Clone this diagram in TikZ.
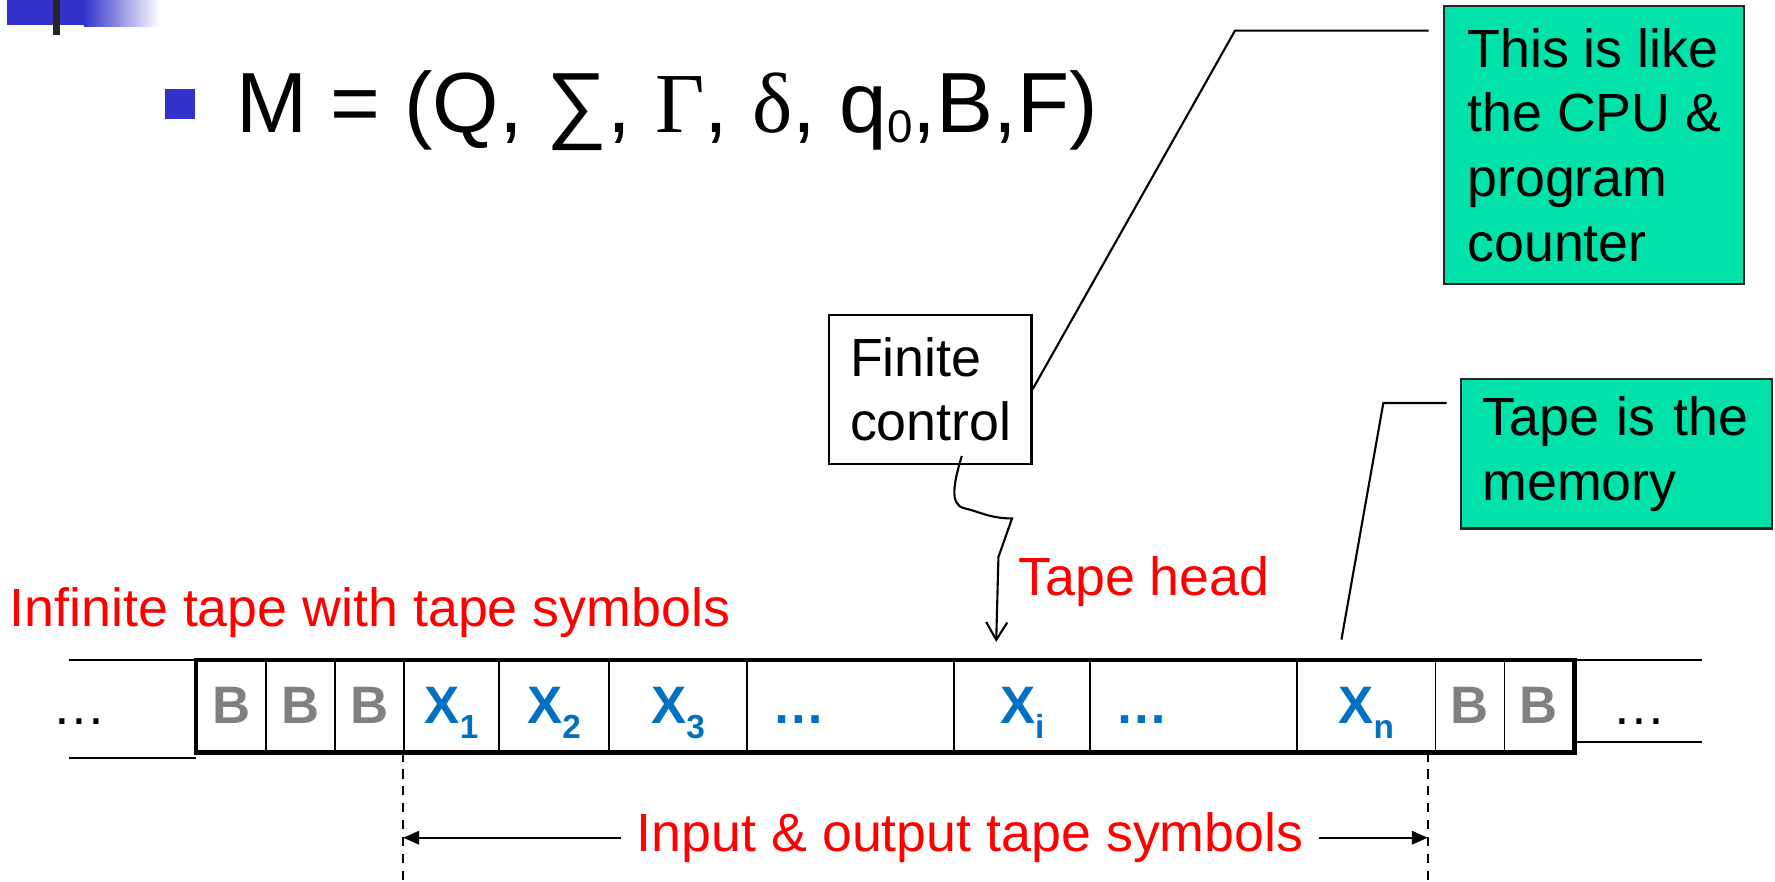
\documentclass[tikz,border=0pt]{standalone}
\usepackage{fontspec}
\setmainfont{Liberation Sans}
\newfontfamily\symserif{Liberation Serif}
\usepackage{tikz}
\usetikzlibrary{arrows.meta, calc}

\definecolor{slideblue}{RGB}{51,51,204}
\definecolor{symblue}{RGB}{0,112,192}
\definecolor{blankgray}{RGB}{128,128,128}
\definecolor{notegreen}{RGB}{0,226,170}

\newcommand{\cB}{\textcolor{blankgray}{B}}
\newcommand{\cX}[1]{\textcolor{symblue}{X\raisebox{-0.15cm}{\fontsize{9.5}{10}\selectfont #1}}}
\newcommand{\cD}{\makebox[2.07cm][l]{\hspace{0.25cm}\textcolor{symblue}{…}}}

\begin{document}
\begin{tikzpicture}[x=0.01132cm, y=-0.01132cm, inner sep=0pt]
            \useasboundingbox (0,0) rectangle (1568,779);

            \tikzstyle{cell}=[draw, line width=0.5pt, text height=0.623cm, text depth=0.283cm, font=\fontsize{15}{18}\selectfont\bfseries];
            \tikzstyle{note}=[draw=black!85, line width=0.6pt, fill=notegreen, align=left, anchor=north west, font=\fontsize{15.3}{18.4}\selectfont];
            \tikzstyle{redtxt}=[text=red, font=\fontsize{15.3}{18}\selectfont];
            \tikzstyle{callline}=[line width=0.6pt];
            \tikzstyle{dimline}=[line width=0.6pt, dash pattern=on 2.6pt off 2.2pt];
            \tikzstyle{dimarrow}=[line width=0.6pt, -{Triangle[length=4.5pt, width=3.8pt]}];

            \fill[slideblue] (6,0) rectangle (74,22);
            \shade[left color=slideblue, right color=white] (74,0) rectangle (141,23);
            \fill[black!85] (47,0) rectangle (53,31);
            \fill[slideblue] (146,79) rectangle (172,105);

            \node[anchor=base west, font=\fontsize{24.3}{30}\selectfont] (tuple) at (208,117)
                {M = (Q, ∑, {\symserif Γ}, {\symserif δ}, q\raisebox{-0.1cm}{\fontsize{13}{13}\selectfont 0},B,F)};

            \node[note, minimum width=3cm, minimum height=2.785cm] (cpu) at (1275,4)
                {This is like\\the CPU \&\\program\\counter};
            \node[note, minimum width=3.11cm, minimum height=1.494cm, inner xsep=0.21cm, text width=2.69cm] (mem) at (1290,334)
                {Tape is the\\memory};
            \node[draw, line width=0.6pt, fill=white, align=left, anchor=north west, minimum width=2.026cm,
                minimum height=1.494cm, inner xsep=0.215cm, text width=1.6cm, font=\fontsize{15.3}{18}\selectfont] (fc) at (731,277)
                {Finite\\control};

            \foreach \xa/\xb/\lab [count=\i] in {174/235/\cB, 235/296/\cB, 296/357/\cB, 357/441/\cX{1},
                441/538/\cX{2}, 538/660/\cX{3}, 660/843/\cD, 843/963/\cX{i}, 963/1146/\cD,
                1146/1268/\cX{n}, 1268/1329/\cB, 1329/1390/\cB}
                \node[cell, minimum width={(\xb-\xa)*0.01132cm}] (c\i) at ({(\xa+\xb)/2},624) {\lab};
            \draw[line width=1.3pt] (c1.north west) rectangle (c12.south east);
            \draw[line width=0.6pt] (c1.north west) -- ++(-112,0);
            \draw[line width=0.6pt] ($(c1.south west)+(0,5)$) -- ++(-112,0);
            \draw[line width=0.6pt] (c12.north east) -- ++(113,0);
            \draw[line width=0.6pt] ($(c12.south east)+(0,-9)$) -- ++(113,0);
            \node[font=\fontsize{15.3}{18}\selectfont, anchor=base] (ldots) at (70,640) {…};
            \node[font=\fontsize{15.3}{18}\selectfont, anchor=base] (rdots) at (1448,640) {…};

            \node[redtxt, anchor=base west] (inftape) at (8,553) {Infinite tape with tape symbols};
            \node[redtxt, anchor=base west] (head) at (899,526) {Tape head};
            \node[redtxt, inner xsep=4.2pt] (io) at (857,740) {Input \& output tape symbols};

            \coordinate (headtip) at (880,567);
            \coordinate (memtip) at (1185,565);
            \coordinate (lastx) at ($(c11.south west)+(-6,0)$);

            \draw[callline] ($(cpu.north west)+(-13,23)$) -- ++(-171,0) -- (fc.east);
            \draw[callline] ($(mem.north west)+(-12,22)$) -- ++(-56,0) -- (memtip);
            \draw[callline, -{Straight Barb[length=5pt, width=6pt]}] ($(fc.south)+(28,-8)$)
                .. controls (843,425) and (838,446) .. (852,449)
                .. controls (865,452) and (875,458) .. (894,458) -- (882,492) -- (headtip);

            \draw[dimline] (c4.south west) -- (c4.south west |- 0,779);
            \draw[dimline] (lastx) -- (lastx |- 0,779);
            \draw[dimarrow] (io.west) -- (io.west -| c4.south west);
            \draw[dimarrow] (io.east) -- (io.east -| lastx);
         \end{tikzpicture}
\end{document}
